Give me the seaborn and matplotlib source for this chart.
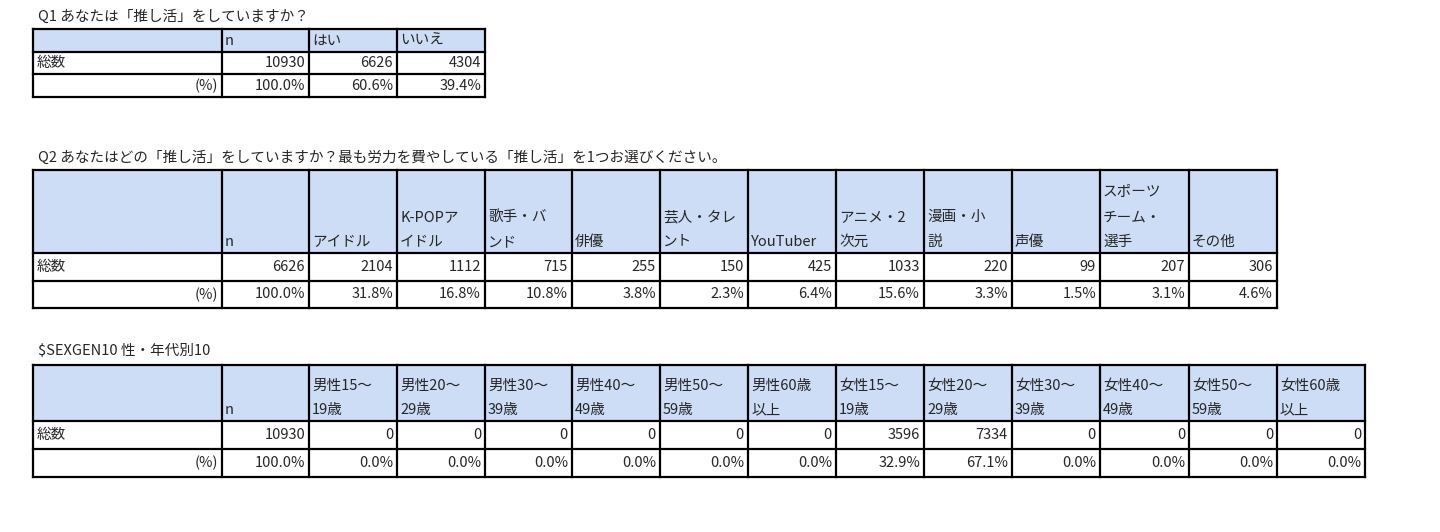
import matplotlib
matplotlib.use("Agg")
import matplotlib.pyplot as plt
import seaborn as sns
from matplotlib.patches import Rectangle

sns.set_theme(style="white")
plt.rcParams['font.family'] = ['Noto Sans CJK JP', 'DejaVu Sans']

q1_title = "Q1 あなたは「推し活」をしていますか？"
q1_cols = ["n", "はい", "いいえ"]
q1_counts = [10930, 6626, 4304]
q1_pcts = ["100.0%", "60.6%", "39.4%"]

q2_title = "Q2 あなたはどの「推し活」をしていますか？最も労力を費やしている「推し活」を1つお選びください。"
q2_cols = ["n", "アイドル", "K-POPア\nイドル", "歌手・バ\nンド", "俳優", "芸人・タレ\nント", "YouTuber",
           "アニメ・2\n次元", "漫画・小\n説", "声優", "スポーツ\nチーム・\n選手", "その他"]
q2_counts = [6626, 2104, 1112, 715, 255, 150, 425, 1033, 220, 99, 207, 306]
q2_pcts = ["100.0%", "31.8%", "16.8%", "10.8%", "3.8%", "2.3%", "6.4%", "15.6%", "3.3%", "1.5%", "3.1%", "4.6%"]

q3_title = "$SEXGEN10 性・年代別10"
q3_cols = ["n", "男性15～\n19歳", "男性20～\n29歳", "男性30～\n39歳", "男性40～\n49歳", "男性50～\n59歳", "男性60歳\n以上",
           "女性15～\n19歳", "女性20～\n29歳", "女性30～\n39歳", "女性40～\n49歳", "女性50～\n59歳", "女性60歳\n以上"]
q3_counts = [10930, 0, 0, 0, 0, 0, 0, 3596, 7334, 0, 0, 0, 0]
q3_pcts = ["100.0%", "0.0%", "0.0%", "0.0%", "0.0%", "0.0%", "0.0%", "32.9%", "67.1%", "0.0%", "0.0%", "0.0%", "0.0%"]

fig = plt.figure(figsize=(14.4, 5.32), dpi=100)
ax = fig.add_axes([0, 0, 1, 1])
ax.set_xlim(0, 1440)
ax.set_ylim(532, 0)
ax.axis('off')

HEAD = "#CCDDF5"
FS = 10.5
LW = 1.6

def col_edges(n):
    edges = [33, 222]
    w = [87, 88, 88, 87, 88, 88, 88, 88, 88, 88, 89, 88, 88]
    for i in range(n):
        edges.append(edges[-1] + w[i])
    return edges

def draw_table(title, ty, cols, counts, pcts, rows_y, line_step):
    ax.text(38, ty, title, fontsize=FS, va='center', ha='left')
    xs = col_edges(len(cols))
    top, hb, r1, bot = rows_y
    ax.add_patch(Rectangle((xs[0], top), xs[-1] - xs[0], hb - top, facecolor=HEAD, edgecolor='none'))
    for y in rows_y:
        ax.plot([xs[0], xs[-1]], [y, y], color='black', lw=LW, solid_capstyle='projecting')
    for x in xs:
        ax.plot([x, x], [top, bot], color='black', lw=LW, solid_capstyle='projecting')
    last_line_y = hb - 11
    for i, c in enumerate(cols):
        lines = c.split("\n")
        for k, ln in enumerate(reversed(lines)):
            ax.text(xs[i + 1] + 3, last_line_y - k * line_step, ln, fontsize=FS, va='center', ha='left')
    c1 = (hb + r1) / 2
    c2 = (r1 + bot) / 2
    ax.text(xs[0] + 4, c1, "総数", fontsize=FS, va='center', ha='left')
    ax.text(xs[1] - 4, c2, "(%)", fontsize=FS, va='center', ha='right')
    for i in range(len(cols)):
        ax.text(xs[i + 2] - 4, c1, str(counts[i]), fontsize=FS, va='center', ha='right')
        ax.text(xs[i + 2] - 4, c2, pcts[i], fontsize=FS, va='center', ha='right')

draw_table(q1_title, 17, q1_cols, q1_counts, q1_pcts, [29, 52, 74, 97], 24)
draw_table(q2_title, 158, q2_cols, q2_counts, q2_pcts, [170, 253, 281, 308], 25)
draw_table(q3_title, 351, q3_cols, q3_counts, q3_pcts, [365, 421, 449, 477], 24)

fig.savefig("out.png", dpi=100, facecolor='white')
